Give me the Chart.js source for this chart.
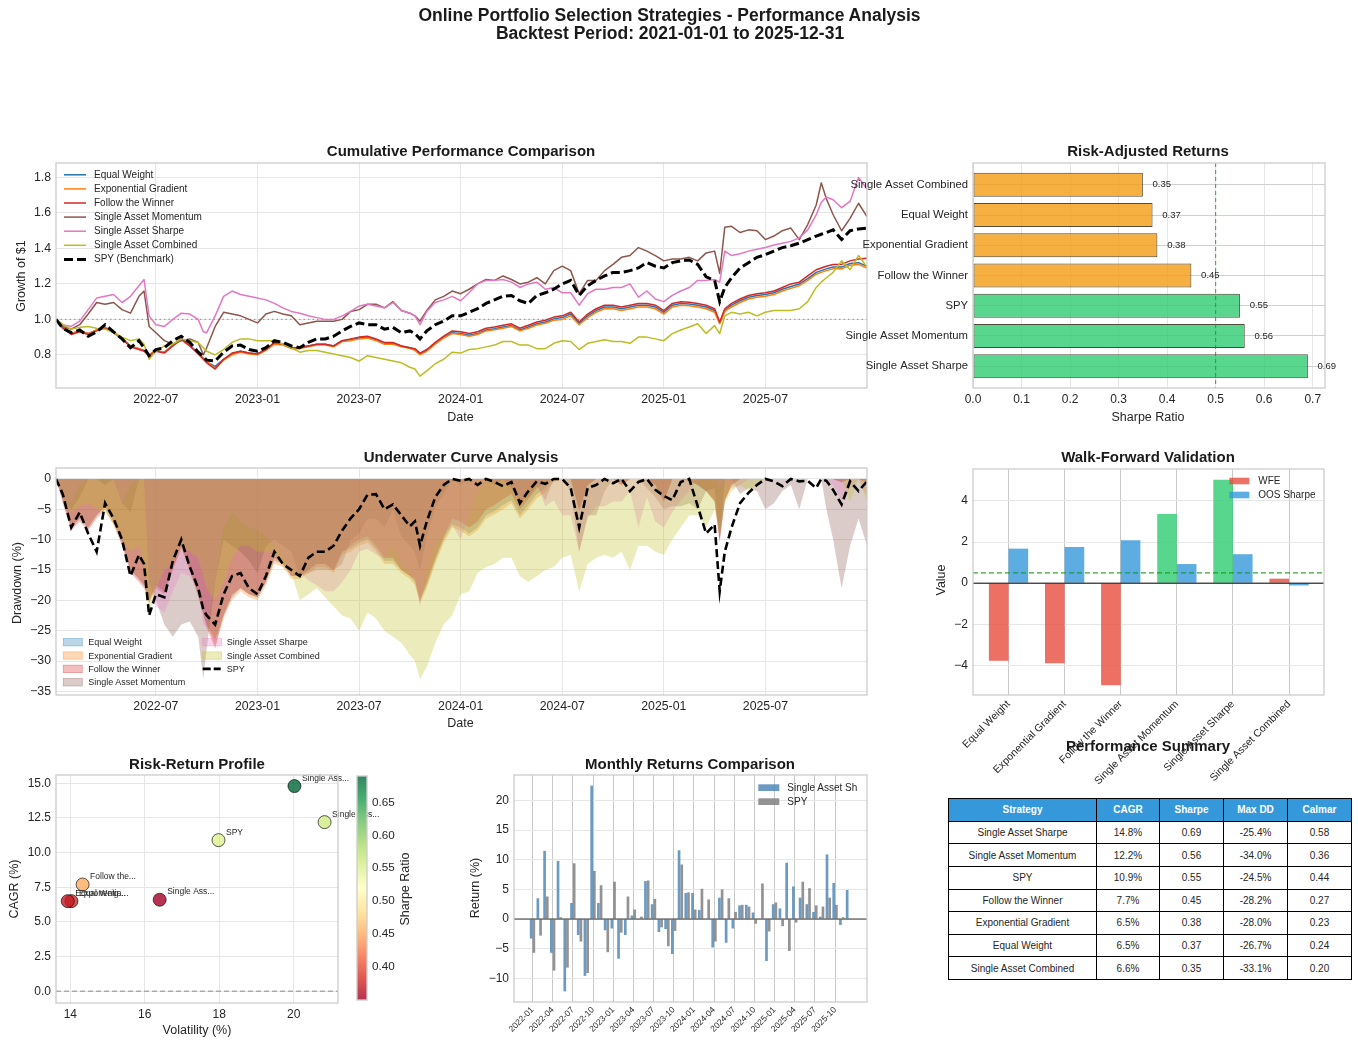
<!DOCTYPE html>
<html>
<head>
<meta charset="utf-8">
<title>Online Portfolio Selection Strategies - Performance Analysis</title>
<script src="https://cdn.jsdelivr.net/npm/chart.js@4.4.1/dist/chart.umd.min.js"></script>
<style>
  html, body { margin: 0; padding: 0; background: #fff; }
  body { position: relative; width: 1358px; height: 1046px; overflow: hidden;
         font-family: 'Liberation Sans', Arial, Helvetica, sans-serif; color: #262626; }
  canvas { position: absolute; }
  .txt { position: absolute; white-space: nowrap; line-height: 1; }
  #summary { position: absolute; left: 948px; top: 798px; width: 403px; height: 182px;
             border-collapse: collapse; font-size: 10px; table-layout: fixed; }
  #summary td, #summary th { border: 1.3px solid #000; text-align: center; padding: 0; }
  #summary th { background: #3498db; color: #fff; font-weight: bold; }
</style>
</head>
<body>
<script>
// ---------- data ----------

// sample positions of the daily curves, months since 2022-01-01
const monthGrid = [
  0.1, 0.5, 1, 1.5, 2, 2.5, 3, 3.5, 4, 4.5,
  5, 5.3, 5.6, 6, 6.5, 7, 7.5, 8, 8.5, 8.8,
  9, 9.5, 10, 10.5, 11, 11.5, 12, 12.5, 13, 13.5,
  14, 14.5, 15, 15.5, 16, 16.5, 17, 17.5, 18, 18.5,
  19, 19.5, 20, 20.5, 21, 21.3, 21.6, 22, 22.5, 23,
  23.5, 24, 24.5, 25, 25.5, 26, 26.5, 27, 27.5, 28,
  28.5, 29, 29.5, 30, 30.5, 31, 31.5, 32, 32.5, 33,
  33.5, 34, 34.5, 35, 35.5, 36, 36.5, 37, 37.5, 38,
  38.5, 39, 39.3, 39.6, 40, 40.5, 41, 41.5, 42, 42.5,
  43, 43.5, 44, 44.5, 45, 45.3, 45.6, 46, 46.5, 47,
  47.5, 48
];
const dateTickPos = [6, 12, 18, 24, 30, 36, 42];
const dateTickLabels = ['2022-07', '2023-01', '2023-07', '2024-01', '2024-07', '2025-01', '2025-07'];

// growth of $1
const cumEqualWeight = [
  1.00, 0.955, 0.92, 0.935, 0.92, 0.94, 0.955, 0.93, 0.895, 0.85,
  0.835, 0.825, 0.80, 0.825, 0.815, 0.855, 0.89, 0.855, 0.81, 0.78,
  0.76, 0.735, 0.775, 0.805, 0.82, 0.81, 0.805, 0.83, 0.865, 0.86,
  0.84, 0.84, 0.85, 0.86, 0.86, 0.85, 0.88, 0.885, 0.895, 0.90,
  0.885, 0.865, 0.865, 0.85, 0.84, 0.83, 0.805, 0.825, 0.865, 0.90,
  0.925, 0.92, 0.91, 0.92, 0.94, 0.947, 0.957, 0.965, 0.94, 0.957,
  0.975, 0.985, 1.003, 1.01, 1.03, 0.978, 1.02, 1.05, 1.07, 1.07,
  1.06, 1.07, 1.08, 1.08, 1.07, 1.04, 1.08, 1.09, 1.087, 1.08,
  1.07, 1.05, 0.98, 1.05, 1.08, 1.105, 1.125, 1.135, 1.14, 1.15,
  1.17, 1.185, 1.20, 1.23, 1.265, 1.275, 1.285, 1.295, 1.295, 1.315,
  1.32, 1.30
];
const cumExpGradient = [
  1.00, 0.955, 0.92, 0.935, 0.92, 0.94, 0.955, 0.93, 0.895, 0.85,
  0.835, 0.825, 0.80, 0.825, 0.815, 0.85, 0.885, 0.85, 0.81, 0.78,
  0.76, 0.725, 0.77, 0.80, 0.815, 0.805, 0.80, 0.825, 0.86, 0.855,
  0.835, 0.835, 0.845, 0.855, 0.855, 0.845, 0.875, 0.88, 0.89, 0.895,
  0.88, 0.86, 0.86, 0.845, 0.835, 0.825, 0.80, 0.82, 0.86, 0.895,
  0.92, 0.915, 0.905, 0.915, 0.935, 0.942, 0.95, 0.96, 0.935, 0.95,
  0.968, 0.978, 0.995, 1.00, 1.02, 0.97, 1.01, 1.04, 1.06, 1.06,
  1.05, 1.06, 1.07, 1.07, 1.06, 1.03, 1.07, 1.08, 1.077, 1.07,
  1.06, 1.04, 0.975, 1.045, 1.07, 1.095, 1.115, 1.125, 1.13, 1.14,
  1.16, 1.175, 1.19, 1.22, 1.255, 1.265, 1.275, 1.285, 1.285, 1.305,
  1.31, 1.29
];
const cumFollowWinner = [
  1.00, 0.95, 0.915, 0.93, 0.915, 0.935, 0.95, 0.925, 0.89, 0.845,
  0.83, 0.82, 0.795, 0.82, 0.81, 0.85, 0.89, 0.85, 0.805, 0.775,
  0.755, 0.72, 0.775, 0.81, 0.82, 0.81, 0.805, 0.83, 0.87, 0.86,
  0.84, 0.84, 0.85, 0.86, 0.86, 0.85, 0.88, 0.89, 0.90, 0.905,
  0.89, 0.87, 0.87, 0.85, 0.84, 0.835, 0.81, 0.83, 0.87, 0.905,
  0.935, 0.93, 0.92, 0.93, 0.95, 0.957, 0.967, 0.975, 0.95, 0.967,
  0.985, 0.995, 1.013, 1.02, 1.04, 0.985, 1.03, 1.06, 1.08, 1.08,
  1.07, 1.08, 1.09, 1.09, 1.08, 1.05, 1.09, 1.10, 1.097, 1.09,
  1.08, 1.06, 0.985, 1.06, 1.09, 1.115, 1.135, 1.145, 1.15, 1.16,
  1.18, 1.20, 1.21, 1.245, 1.28, 1.29, 1.30, 1.31, 1.31, 1.33,
  1.34, 1.345
];
const cumMomentum = [
  1.00, 0.96, 0.945, 0.97, 1.03, 1.095, 1.085, 1.095, 1.055, 1.035,
  1.13, 1.16, 0.96, 0.925, 0.88, 0.86, 0.88, 0.89, 0.87, 0.80,
  0.84, 0.96, 1.04, 1.03, 1.02, 1.00, 0.98, 1.03, 1.045, 1.03,
  1.02, 0.97, 0.98, 0.99, 0.99, 0.99, 1.00, 1.045, 1.055, 1.085,
  1.085, 1.065, 1.10, 1.05, 1.035, 1.02, 0.99, 1.05, 1.11, 1.13,
  1.16, 1.145, 1.17, 1.20, 1.225, 1.22, 1.245, 1.225, 1.20, 1.21,
  1.235, 1.20, 1.275, 1.30, 1.275, 1.145, 1.22, 1.22, 1.275, 1.31,
  1.35, 1.36, 1.405, 1.385, 1.36, 1.33, 1.34, 1.34, 1.35, 1.33,
  1.375, 1.385, 1.26, 1.52, 1.525, 1.49, 1.505, 1.50, 1.45, 1.47,
  1.50, 1.515, 1.45, 1.535, 1.645, 1.77, 1.68, 1.59, 1.50, 1.57,
  1.655, 1.58
];
const cumSharpe = [
  1.00, 0.97, 0.96, 0.99, 1.055, 1.12, 1.13, 1.14, 1.095, 1.13,
  1.19, 1.225, 1.02, 0.97, 0.96, 1.00, 1.035, 1.03, 1.00, 0.93,
  0.925, 1.02, 1.13, 1.16, 1.14, 1.13, 1.12, 1.11, 1.09, 1.065,
  1.045, 1.035, 1.02, 1.01, 1.00, 1.00, 1.02, 1.045, 1.075, 1.085,
  1.075, 1.065, 1.095, 1.05, 1.035, 1.02, 0.97, 1.045, 1.095, 1.11,
  1.13, 1.105, 1.15, 1.20, 1.22, 1.22, 1.225, 1.21, 1.18, 1.20,
  1.21, 1.17, 1.18, 1.15, 1.15, 1.08, 1.145, 1.17, 1.17, 1.18,
  1.18, 1.20, 1.125, 1.16, 1.115, 1.10, 1.135, 1.16, 1.18, 1.22,
  1.22, 1.225, 1.21, 1.385, 1.36, 1.37, 1.385, 1.395, 1.405, 1.42,
  1.43, 1.44, 1.46, 1.505, 1.59, 1.66, 1.69, 1.675, 1.63, 1.665,
  1.80, 1.735
];
const cumCombined = [
  1.00, 0.97, 0.945, 0.955, 0.96, 0.95, 0.945, 0.925, 0.90, 0.88,
  0.89, 0.86, 0.775, 0.82, 0.85, 0.86, 0.89, 0.88, 0.87, 0.84,
  0.82, 0.80, 0.83, 0.87, 0.89, 0.89, 0.88, 0.88, 0.88, 0.86,
  0.84, 0.815, 0.825, 0.825, 0.815, 0.805, 0.795, 0.785, 0.765, 0.795,
  0.785, 0.775, 0.765, 0.755, 0.73, 0.72, 0.68, 0.71, 0.75, 0.775,
  0.815, 0.81, 0.83, 0.835, 0.845, 0.855, 0.875, 0.875, 0.855, 0.855,
  0.835, 0.835, 0.865, 0.88, 0.875, 0.83, 0.865, 0.875, 0.885, 0.875,
  0.875, 0.865, 0.90, 0.90, 0.89, 0.88, 0.92, 0.94, 0.957, 0.975,
  0.92, 0.965, 0.92, 1.02, 1.04, 1.03, 1.04, 1.02, 1.04, 1.05,
  1.05, 1.05, 1.06, 1.10, 1.18, 1.21, 1.235, 1.265, 1.33, 1.28,
  1.36, 1.295
];
const cumSpy = [
  1.00, 0.95, 0.925, 0.94, 0.905, 0.93, 0.97, 0.93, 0.89, 0.84,
  0.88, 0.84, 0.795, 0.83, 0.84, 0.88, 0.905, 0.87, 0.815, 0.79,
  0.77, 0.765, 0.815, 0.85, 0.855, 0.83, 0.82, 0.84, 0.88, 0.87,
  0.85, 0.84, 0.87, 0.89, 0.89, 0.905, 0.935, 0.96, 0.98, 0.97,
  0.97, 0.945, 0.955, 0.925, 0.935, 0.92, 0.89, 0.935, 0.97, 0.99,
  1.02, 1.02, 1.04, 1.06, 1.09, 1.11, 1.13, 1.135, 1.105, 1.09,
  1.135, 1.15, 1.17, 1.20, 1.22, 1.135, 1.19, 1.22, 1.245, 1.265,
  1.265, 1.275, 1.29, 1.32, 1.30, 1.29, 1.32, 1.33, 1.335, 1.31,
  1.24, 1.22, 1.10, 1.18, 1.235, 1.29, 1.32, 1.35, 1.365, 1.385,
  1.405, 1.415, 1.43, 1.45, 1.47, 1.48, 1.49, 1.505, 1.45, 1.50,
  1.51, 1.515
];

// drawdown, %
const ddEqualWeight = [
  0, -3.5, -8, -6.5, -8, -6, -4.5, -7, -10.5, -15,
  -16.5, -17.5, -20, -17.5, -18.5, -14.5, -11, -14.5, -19, -22,
  -24, -26.5, -22.5, -19.5, -18, -19, -19.5, -17, -13.5, -14,
  -16, -16, -15, -14, -14, -15, -12, -11.5, -10.5, -10,
  -11.5, -13.5, -13.5, -15, -16, -17, -20, -17.5, -13.5, -10,
  -7.5, -8, -9, -8, -6, -5.3, -4.3, -3.5, -6, -4.3,
  -2.5, -1.5, 0, 0, 0, -5, -1, 0, 0, 0,
  -1, 0, 0, 0, -1, -3.7, 0, 0, -0.3, -1,
  -2, -3.7, -10, -3.5, -1, 0, 0, 0, 0, 0,
  0, 0, 0, 0, 0, 0, 0, 0, -0.5, 0,
  0, -0.6
];
const ddExpGradient = [
  0, -3.5, -8, -6.5, -8, -6, -4.5, -7, -10.5, -15,
  -16.5, -17.5, -20, -17.5, -18.5, -15, -11.5, -15, -19, -22,
  -24, -27.5, -23, -20, -18.5, -19.5, -20, -17.5, -14, -14.5,
  -16.5, -16.5, -15.5, -14.5, -14.5, -15.5, -12.5, -12, -11, -10.5,
  -12, -14, -14, -15.5, -16.5, -17.5, -20.5, -18, -14, -10.5,
  -8, -8.5, -9.5, -8.5, -6.5, -5.8, -5, -4, -6.5, -5,
  -3.2, -2.2, -0.5, 0, 0, -5, -1, 0, 0, 0,
  -1, 0, 0, 0, -1, -3.7, 0, 0, -0.3, -1,
  -2, -3.8, -10, -3.5, -1.2, 0, 0, 0, 0, 0,
  0, 0, 0, 0, 0, 0, 0, 0, -0.6, 0,
  0, -0.8
];
const ddFollowWinner = [
  0, -4, -8.5, -7, -8.5, -6.5, -5, -7.5, -11, -15.5,
  -17, -18, -20.5, -18, -19, -15, -11, -15, -19.5, -22.5,
  -24.5, -28, -22.5, -19, -18, -19, -19.5, -17, -13, -14,
  -16, -16, -15, -14, -14, -15, -12, -11, -10, -9.5,
  -11, -13, -13, -15, -16, -16.5, -20, -17, -13, -9.5,
  -6.5, -7, -8, -7, -5, -4.3, -3.3, -2.5, -5, -3.3,
  -1.5, -0.5, 0, 0, 0, -5.3, -1, 0, 0, 0,
  -1, 0, 0, 0, -1, -3.7, 0, 0, -0.3, -1,
  -2, -3.6, -10.5, -3.6, -0.9, 0, 0, 0, 0, 0,
  0, 0, 0, 0, 0, 0, 0, 0, -0.5, 0,
  0, -0.4
];
const ddMomentum = [
  0, -3, -5, -3, 0, 0, -1, 0, -4, -5.5,
  0, 0, -17, -20, -24, -26, -24, -23.5, -26, -33,
  -28, -17, -10, -11, -12, -13.5, -15.5, -11, -10, -11,
  -12, -16, -15.5, -15, -15, -15, -14, -10, -9, -6.5,
  -6.5, -8, -5, -9.5, -11, -12, -15, -9.5, -4.5, -2.5,
  0, -1, 0, 0, 0, -1, 0, -1.5, -3.5, -3,
  -1, -3.5, 0, 0, -2, -12, -6, -6, -2, 0,
  0, 0, 0, -1.5, -3, -5, -4.5, -4.5, -4, -5,
  -2, -1.5, -10, 0, 0, -2.5, -1.5, -2, -5, -4,
  -2, -1, -5, 0, 0, 0, -5, -10, -18, -11,
  -6.5, -11
];
const ddSharpe = [
  0, -3, -4, -1, 0, 0, 0, 0, -4, -1,
  0, 0, -16.5, -21, -22, -18.5, -15.5, -16, -18.5, -24,
  -24.5, -17, -8, -5.5, -7, -8, -8.5, -9.5, -11, -13,
  -14.7, -15.5, -16.7, -17.5, -18.5, -18.5, -17, -15, -12, -11.5,
  -12.5, -13, -10.5, -14, -15.5, -16.7, -21, -14.5, -10.5, -9,
  -7.5, -10, -6, -2, -0.5, -0.5, 0, -1, -3.5, -2,
  -1, -4.5, -3.5, -6, -6, -12, -6.5, -4.5, -4.5, -3.7,
  -3.7, -2, -8, -3, -7, -8, -5.5, -3.5, -2, 0,
  0, 0, -1.5, 0, -1.5, -1, 0, 0, 0, 0,
  0, 0, 0, 0, 0, 0, 0, -1, -3.5, -1.5,
  0, -3
];
const ddCombined = [
  0, -3, -5.5, -4.5, -4, -5, -5.5, -7.5, -10, -12,
  -11, -14, -22.5, -18, -15, -14, -11, -12, -13, -16,
  -18, -20, -17, -13, -11, -11, -12, -12, -12, -14.5,
  -15.5, -20, -19, -18, -19.5, -21, -22.5, -23, -25, -22,
  -23, -25, -26, -27, -29, -30, -33, -31, -27, -24,
  -22.5, -19, -18.5, -15.5, -14.5, -14, -13, -13, -16, -17,
  -16, -15, -14.5, -13, -12.5, -18.5, -14, -13, -12.5, -13,
  -12, -15, -11, -11, -12, -12.5, -10, -8, -6, -6,
  -8, -5, -9, -4, -2, -1, -2, -1, 0, 0,
  0, 0, 0, 0, 0, 0, 0, 0, 0, -3.8,
  0, -3.7
];
const ddSpy = [
  0, -2.5, -8, -5.5, -9, -12, -4, -6.5, -10, -16,
  -12.5, -14, -22.5, -19, -19.5, -13.5, -10, -14.5, -18, -21.5,
  -22.5, -24, -19, -16, -15.5, -18, -19, -16, -12, -14,
  -15, -16, -13, -12, -12, -11, -8.5, -6.5, -5, -2.6,
  -2.5, -5, -4.2, -6, -7.8, -7, -11, -7, -3, -1,
  0, -0.3, 0, -1, 0, -0.5, -1.2, -0.5, -4, -2,
  -0.4, -0.8, 0, 0, -1.5, -8, -1.5, -1, 0, -0.7,
  0, -2, -0.5, 0, -1.8, -2.8, -3.5, -0.5, 0, -4.5,
  -9, -7.5, -18.5, -12, -8, -4, -2.3, -1, 0, -0.4,
  -1.2, 0, -0.4, -0.3, -1.5, 0, -0.3, -1.8, -4.2, -0.4,
  -2, -0.4
];

// summary table, sorted by Sharpe
const summaryNames = ['Single Asset Sharpe', 'Single Asset Momentum', 'SPY', 'Follow the Winner',
                      'Exponential Gradient', 'Equal Weight', 'Single Asset Combined'];
const summaryCagr = [14.8, 12.2, 10.9, 7.7, 6.5, 6.5, 6.6];
const summarySharpe = [0.69, 0.56, 0.55, 0.45, 0.38, 0.37, 0.35];
const summaryMaxDD = [-25.4, -34.0, -24.5, -28.2, -28.0, -26.7, -33.1];
const summaryCalmar = [0.58, 0.36, 0.44, 0.27, 0.23, 0.24, 0.20];
const summaryVol = [20.02, 20.83, 17.98, 14.33, 14.03, 13.93, 16.40];

// walk-forward
const wfNames = ['Equal Weight', 'Exponential Gradient', 'Follow the Winner',
                 'Single Asset Momentum', 'Single Asset Sharpe', 'Single Asset Combined'];
const wfWfe = [-3.77, -3.9, -4.97, 3.37, 5.03, 0.22];
const wfOos = [1.68, 1.76, 2.09, 0.93, 1.41, -0.11];

// monthly returns, %
const monthLabels = [
  '2022-01', '2022-02', '2022-03', '2022-04', '2022-05', '2022-06', '2022-07', '2022-08', '2022-09', '2022-10', '2022-11', '2022-12',
  '2023-01', '2023-02', '2023-03', '2023-04', '2023-05', '2023-06', '2023-07', '2023-08', '2023-09', '2023-10', '2023-11', '2023-12',
  '2024-01', '2024-02', '2024-03', '2024-04', '2024-05', '2024-06', '2024-07', '2024-08', '2024-09', '2024-10', '2024-11', '2024-12',
  '2025-01', '2025-02', '2025-03', '2025-04', '2025-05', '2025-06', '2025-07', '2025-08', '2025-09', '2025-10', '2025-11', '2025-12'
];
const monthTickPos = [0, 3, 6, 9, 12, 15, 18, 21, 24, 27, 30, 33, 36, 39, 42, 45];
const monthlySharpe = [
  -3.3, 3.5, 11.5, -5.7, 9.8, -12.2, 2.7, -2.7, -9.6, 22.5, 2.7, -1.9,
  -1.6, -6.7, -2.7, 0.6, -0.1, 6.4, 2.5, -2.2, -1.7, -5.9, 11.6, 4.4,
  4.4, 1.5, 0.1, -4.8, 3.6, -4.0, -1.6, 2.3, 2.4, 1.1, 0.0, -7.1,
  2.5, 1.8, 9.5, 5.5, 3.6, 2.5, 1.2, 0.4, 10.9, 6.1, -1.0, 4.9
];
const monthlySpy = [
  -5.7, -2.8, 3.8, -8.7, 0.3, -8.2, 9.4, -3.8, -9.1, 8.1, 5.7, -5.6,
  6.3, -2.3, 3.8, 1.6, 0.4, 6.5, 3.4, -1.4, -4.6, -2.0, 9.2, 4.5,
  1.6, 5.1, 3.3, -3.8, 5.0, 3.5, 1.2, 2.4, 2.1, -0.8, 6.0, -2.1,
  2.8, -1.2, -5.4, -0.6, 6.3, 5.2, 2.3, 2.1, 3.6, 2.4, 0.3, 0.1
];

// ---------- styling ----------
const FONT = "'Liberation Sans', Arial, Helvetica, sans-serif";
const C = { ew: '#1f77b4', eg: '#ff7f0e', ftw: '#d62728', mom: '#8c564b', shp: '#e377c2', comb: '#bcbd22' };
const ORANGE = 'rgba(243,156,18,0.8)', GREEN = 'rgba(46,204,113,0.8)';
const RED = 'rgba(231,76,60,0.8)', BLUE = 'rgba(52,152,219,0.8)';
const RDYLGN = ['#a50026', '#d73027', '#f46d43', '#fdae61', '#fee08b', '#ffffbf',
                '#d9ef8b', '#a6d96a', '#66bd63', '#1a9850', '#006837'];

function rgba(hex, a) {
  const n = parseInt(hex.slice(1), 16);
  return `rgba(${n >> 16},${(n >> 8) & 255},${n & 255},${a})`;
}
function cmap(t, a) {
  t = Math.max(0, Math.min(1, t));
  const p = t * 10, i = Math.min(9, Math.floor(p)), f = p - i;
  const c0 = parseInt(RDYLGN[i].slice(1), 16), c1 = parseInt(RDYLGN[i + 1].slice(1), 16);
  const ch = s => Math.round(((c0 >> s) & 255) * (1 - f) + ((c1 >> s) & 255) * f);
  return `rgba(${ch(16)},${ch(8)},${ch(0)},${a})`;
}
const fmt = (v, d) => (v < 0 ? '\u2212' : '') + Math.abs(v).toFixed(d);

Chart.defaults.font.family = FONT;
Chart.defaults.color = '#262626';
Chart.defaults.plugins.legend.display = false;
Chart.defaults.plugins.tooltip.enabled = false;

// plot frame + reference lines
Chart.register({
  id: 'frame',
  afterDraw(chart) {
    const { ctx, chartArea: a } = chart;
    ctx.save();
    ctx.strokeStyle = '#cccccc';
    ctx.lineWidth = 1.3;
    ctx.strokeRect(a.left, a.top, a.right - a.left, a.bottom - a.top);
    ctx.restore();
  }
});
function drawRefLines(chart, lines, below) {
  const { ctx, chartArea: a } = chart;
  lines.filter(l => !!l.below === below).forEach(l => {
    ctx.save();
    ctx.beginPath();
    ctx.rect(a.left, a.top, a.right - a.left, a.bottom - a.top);
    ctx.clip();
    ctx.strokeStyle = l.color;
    ctx.lineWidth = l.width || 1;
    ctx.setLineDash(l.dash || []);
    ctx.beginPath();
    if (l.axis === 'y') {
      const y = chart.scales.y.getPixelForValue(l.value);
      ctx.moveTo(a.left, y); ctx.lineTo(a.right, y);
    } else {
      const x = chart.scales.x.getPixelForValue(l.value);
      ctx.moveTo(x, a.top); ctx.lineTo(x, a.bottom);
    }
    ctx.stroke();
    ctx.restore();
  });
}
Chart.register({
  id: 'refLines',
  defaults: { lines: [] },
  beforeDatasetsDraw(chart, args, opts) { drawRefLines(chart, opts.lines, true); },
  afterDatasetsDraw(chart, args, opts) { drawRefLines(chart, opts.lines, false); }
});

function axis(min, max, ticks, label, o = {}) {
  const ax = {
    type: 'linear', min, max, bounds: 'data', offset: false, reverse: !!o.reverse,
    display: o.display !== false,
    afterBuildTicks: s => { s.ticks = ticks.map(v => ({ value: v })); },
    ticks: {
      callback: (v, i) => label(v, i),
      autoSkip: false,
      minRotation: o.rotation || 0, maxRotation: o.rotation || 0,
      padding: o.padding != null ? o.padding : 5,
      color: '#262626',
      font: { size: o.size || 12 }
    },
    grid: o.noGrid ? { display: false, drawTicks: false }
                   : { color: o.gridColor || '#e6e6e6', lineWidth: 1, drawTicks: false, offset: false },
    border: { display: false }
  };
  if (o.position) ax.position = o.position;
  return ax;
}

// canvas whose plot area lands exactly on area = [left, top, right, bottom]
function makeChart(area, pad, config) {
  const [l, t, r, b] = area, [pl, pt, pr, pb] = pad;
  const w = r - l + pl + pr, h = b - t + pt + pb;
  const cv = document.createElement('canvas');
  cv.width = w; cv.height = h;
  cv.style.left = (l - pl) + 'px'; cv.style.top = (t - pt) + 'px';
  cv.style.width = w + 'px'; cv.style.height = h + 'px';
  document.body.appendChild(cv);
  const o = config.options;
  o.responsive = false; o.animation = false; o.devicePixelRatio = 1;
  const yRight = o.scales.y.position === 'right';
  o.layout = { padding: { left: yRight ? pl : 0, right: yRight ? 0 : pr, top: pt, bottom: 0 } };
  o.scales.x.afterFit = s => { s.height = pb; };
  o.scales.y.afterFit = s => { s.width = yRight ? pr : pl; };
  return new Chart(cv, config);
}

const xy = arr => arr.map((v, i) => ({ x: monthGrid[i], y: v }));
const dateAxis = () => axis(0.1, 48, dateTickPos, (v, i) => dateTickLabels[i], { size: 12.3, padding: 4 });

// ---------- 1. cumulative performance ----------
const cumSets = [
  ['Equal Weight', cumEqualWeight, C.ew],
  ['Exponential Gradient', cumExpGradient, C.eg],
  ['Follow the Winner', cumFollowWinner, C.ftw],
  ['Single Asset Momentum', cumMomentum, C.mom],
  ['Single Asset Sharpe', cumSharpe, C.shp],
  ['Single Asset Combined', cumCombined, C.comb]
];
makeChart([56, 163, 867, 388], [50, 15, 20, 30], {
  type: 'line',
  data: {
    datasets: cumSets.map((s, k) => ({
      label: s[0], data: xy(s[1]), borderColor: s[2], borderWidth: 1.5,
      pointRadius: 0, tension: 0, borderJoinStyle: 'round', order: 10 - k
    })).concat([{
      label: 'SPY (Benchmark)', data: xy(cumSpy), borderColor: '#000', borderWidth: 3,
      borderDash: [9, 4], pointRadius: 0, tension: 0, order: 0
    }])
  },
  options: {
    scales: {
      x: dateAxis(),
      y: axis(0.613, 1.882, [0.8, 1.0, 1.2, 1.4, 1.6, 1.8], v => v.toFixed(1), { size: 12.3 })
    },
    plugins: { refLines: { lines: [{ axis: 'y', value: 1, color: 'rgba(128,128,128,0.7)', dash: [1.5, 3], width: 1.2, below: true }] } }
  }
});

// ---------- 2. risk-adjusted returns ----------
const raNames = summaryNames.slice().reverse();
const raVals = summarySharpe.slice().reverse();
makeChart([973, 163, 1325, 388], [135, 15, 25, 30], {
  type: 'bar',
  data: {
    datasets: [{
      data: raVals.map((v, i) => ({ x: v, y: i })),
      backgroundColor: raVals.map(v => v >= 0.5 ? GREEN : ORANGE),
      borderColor: 'rgba(40,30,10,0.8)', borderWidth: 1, borderSkipped: false,
      barPercentage: 0.8, categoryPercentage: 1
    }]
  },
  options: {
    indexAxis: 'y',
    scales: {
      x: axis(0, 0.7253, [0, 0.1, 0.2, 0.3, 0.4, 0.5, 0.6, 0.7], v => v.toFixed(1), { padding: 4 }),
      y: axis(-0.72, 6.72, [0, 1, 2, 3, 4, 5, 6], (v, i) => raNames[i], { reverse: true, gridColor: '#d0d0d0', size: 11.3 })
    },
    plugins: { refLines: { lines: [{ axis: 'x', value: 0.5, color: 'rgba(20,150,20,0.85)', dash: [4, 3], width: 1 }] } }
  },
  plugins: [{
    id: 'barValues',
    afterDatasetsDraw(chart) {
      const { ctx } = chart, xs = chart.scales.x, ys = chart.scales.y;
      ctx.save();
      ctx.font = '9.5px ' + FONT; ctx.fillStyle = '#262626';
      ctx.textAlign = 'left'; ctx.textBaseline = 'middle';
      raVals.forEach((v, i) => ctx.fillText(v.toFixed(2), xs.getPixelForValue(v + 0.02), ys.getPixelForValue(i)));
      ctx.restore();
    }
  }]
});

// ---------- 3. underwater curve ----------
const ddSets = [
  [ddEqualWeight, C.ew], [ddExpGradient, C.eg], [ddFollowWinner, C.ftw],
  [ddMomentum, C.mom], [ddSharpe, C.shp], [ddCombined, C.comb]
];
makeChart([56, 468, 867, 695], [50, 15, 20, 30], {
  type: 'line',
  data: {
    datasets: ddSets.map((s, k) => ({
      data: xy(s[0]), fill: 'origin', backgroundColor: rgba(s[1], 0.3),
      borderWidth: 0, pointRadius: 0, tension: 0, order: 10 - k
    })).concat([{
      data: xy(ddSpy), borderColor: '#000', borderWidth: 2.6, borderDash: [8, 4],
      pointRadius: 0, tension: 0, fill: false, order: 0
    }])
  },
  options: {
    scales: {
      x: dateAxis(),
      y: axis(-35.6, 1.8, [-35, -30, -25, -20, -15, -10, -5, 0], v => fmt(v, 0), { size: 12.3 })
    }
  }
});

// ---------- 4. walk-forward validation ----------
makeChart([973, 469, 1324, 695], [40, 15, 25, 100], {
  type: 'bar',
  data: {
    datasets: [
      { data: wfWfe.map((v, i) => ({ x: i, y: v })), backgroundColor: wfWfe.map(v => v > 0.5 ? GREEN : RED),
        categoryPercentage: 0.7, barPercentage: 1 },
      { data: wfOos.map((v, i) => ({ x: i, y: v })), backgroundColor: BLUE,
        categoryPercentage: 0.7, barPercentage: 1 }
    ]
  },
  options: {
    scales: {
      x: axis(-0.633, 5.623, [0, 1, 2, 3, 4, 5], (v, i) => wfNames[i], { rotation: 45, size: 10.5, gridColor: '#c8c8c8', padding: 3 }),
      y: axis(-5.44, 5.555, [-4, -2, 0, 2, 4], v => fmt(v, 0))
    },
    plugins: { refLines: { lines: [
      { axis: 'y', value: 0, color: '#000', width: 1 },
      { axis: 'y', value: 0.5, color: 'rgba(20,150,20,0.85)', dash: [5, 3], width: 1.2 }
    ] } }
  }
});

// ---------- 5. risk-return scatter ----------
const sMin = Math.min(...summarySharpe), sMax = Math.max(...summarySharpe);
makeChart([56, 775, 338, 1003], [50, 15, 60, 20], {
  type: 'scatter',
  data: {
    datasets: [{
      data: summaryVol.map((v, i) => ({ x: v, y: summaryCagr[i] })),
      backgroundColor: summarySharpe.map(s => cmap((s - sMin) / (sMax - sMin), 0.8)),
      borderColor: 'rgba(0,0,0,0.8)', borderWidth: 0.8, pointRadius: 6.5
    }]
  },
  options: {
    scales: {
      x: axis(13.615, 21.19, [14, 16, 18, 20], v => String(v), { padding: 4 }),
      y: axis(-0.85, 15.6, [0, 2.5, 5, 7.5, 10, 12.5, 15], v => v.toFixed(1))
    },
    plugins: { refLines: { lines: [{ axis: 'y', value: 0, color: 'rgba(128,128,128,0.6)', dash: [5, 3], width: 1.4, below: true }] } }
  },
  plugins: [{
    id: 'pointNames',
    afterDatasetsDraw(chart) {
      const { ctx } = chart, xs = chart.scales.x, ys = chart.scales.y;
      ctx.save();
      ctx.font = '8.5px ' + FONT; ctx.fillStyle = '#262626';
      ctx.textAlign = 'left'; ctx.textBaseline = 'alphabetic';
      summaryNames.forEach((n, i) => {
        const t = n.length > 10 ? n.slice(0, 10) + '...' : n;
        ctx.fillText(t, xs.getPixelForValue(summaryVol[i]) + 7.5, ys.getPixelForValue(summaryCagr[i]) - 5.5);
      });
      ctx.restore();
    }
  }]
});

// colorbar
makeChart([357, 776, 367, 1002], [2, 15, 45, 10], {
  type: 'scatter',
  data: { datasets: [] },
  options: {
    scales: {
      x: { type: 'linear', display: false, min: 0, max: 1 },
      y: axis(sMin, sMax, [0.40, 0.45, 0.50, 0.55, 0.60, 0.65], v => v.toFixed(2), { position: 'right', noGrid: true, size: 11.7, padding: 5 })
    }
  },
  plugins: [{
    id: 'colorbarFill',
    beforeDatasetsDraw(chart) {
      const { ctx, chartArea: a, scales: { y } } = chart;
      const g = ctx.createLinearGradient(0, y.getPixelForValue(sMin), 0, y.getPixelForValue(sMax));
      RDYLGN.forEach((c, i) => g.addColorStop(i / (RDYLGN.length - 1), c));
      ctx.save();
      ctx.fillStyle = '#fff';
      ctx.fillRect(a.left, a.top, a.right - a.left, a.bottom - a.top);
      ctx.globalAlpha = 0.8;
      ctx.fillStyle = g;
      ctx.fillRect(a.left, a.top, a.right - a.left, a.bottom - a.top);
      ctx.restore();
    }
  }]
});

// ---------- 6. monthly returns ----------
makeChart([514, 775, 867, 1002], [40, 15, 20, 45], {
  type: 'bar',
  data: {
    datasets: [
      { data: monthlySharpe.map((v, i) => ({ x: i, y: v })), backgroundColor: 'rgba(70,130,180,0.8)',
        categoryPercentage: 0.8, barPercentage: 1 },
      { data: monthlySpy.map((v, i) => ({ x: i, y: v })), backgroundColor: 'rgba(128,128,128,0.85)',
        categoryPercentage: 0.8, barPercentage: 1 }
    ]
  },
  options: {
    scales: {
      x: axis(-2.75, 49.75, monthTickPos, (v, i) => monthLabels[monthTickPos[i]], { rotation: 45, size: 8.5, gridColor: '#c8c8c8', padding: 3 }),
      y: axis(-14, 24.3, [-10, -5, 0, 5, 10, 15, 20], v => fmt(v, 0))
    },
    plugins: { refLines: { lines: [{ axis: 'y', value: 0, color: '#333', width: 1 }] } }
  }
});

// ---------- 7. summary table ----------
const tbl = document.createElement('table');
tbl.id = 'summary';
const colW = [148, 63, 64, 64, 64];
tbl.innerHTML = '<colgroup>' + colW.map(w => `<col style="width:${w}px">`).join('') + '</colgroup>';
const head = tbl.insertRow();
['Strategy', 'CAGR', 'Sharpe', 'Max DD', 'Calmar'].forEach(h => {
  const th = document.createElement('th'); th.textContent = h; head.appendChild(th);
});
summaryNames.forEach((n, i) => {
  const row = tbl.insertRow();
  [n, summaryCagr[i].toFixed(1) + '%', summarySharpe[i].toFixed(2),
   summaryMaxDD[i].toFixed(1) + '%', summaryCalmar[i].toFixed(2)].forEach(v => {
    row.insertCell().textContent = v;
  });
});
document.body.appendChild(tbl);

// ---------- text, legends ----------
const NS = 'http://www.w3.org/2000/svg';
const svg = document.createElementNS(NS, 'svg');
svg.setAttribute('width', 1358); svg.setAttribute('height', 1046);
svg.style.position = 'absolute'; svg.style.left = '0'; svg.style.top = '0';
document.body.appendChild(svg);
function sv(tag, attrs) {
  const e = document.createElementNS(NS, tag);
  for (const k in attrs) e.setAttribute(k, attrs[k]);
  svg.appendChild(e);
}
function text(str, x, y, size, o = {}) {
  const d = document.createElement('div');
  d.className = 'txt';
  d.textContent = str;
  d.style.left = x + 'px'; d.style.top = y + 'px';
  d.style.fontSize = size + 'px';
  if (o.bold) d.style.fontWeight = 'bold';
  d.style.color = o.color || (o.bold ? '#1a1a1a' : '#262626');
  const tx = o.left ? '0' : '-50%';
  d.style.transform = `translate(${tx},-50%)` + (o.rotate ? ' rotate(-90deg)' : '');
  document.body.appendChild(d);
}

text('Online Portfolio Selection Strategies - Performance Analysis', 669.5, 15.5, 17.5, { bold: true });
text('Backtest Period: 2021-01-01 to 2025-12-31', 670, 34, 17.5, { bold: true });

text('Cumulative Performance Comparison', 461, 149.5, 15, { bold: true });
text('Risk-Adjusted Returns', 1148, 149.5, 15, { bold: true });
text('Underwater Curve Analysis', 461, 456, 15, { bold: true });
text('Walk-Forward Validation', 1148, 456, 15, { bold: true });
text('Risk-Return Profile', 197, 762.5, 15, { bold: true });
text('Monthly Returns Comparison', 690, 762.5, 15, { bold: true });
text('Performance Summary', 1148, 744.5, 15, { bold: true });

text('Growth of $1', 21, 276, 12.5, { rotate: true });
text('Date', 460.5, 416.5, 12.5);
text('Sharpe Ratio', 1148, 416.5, 12.5);
text('Drawdown (%)', 17, 583, 12.5, { rotate: true });
text('Date', 460.5, 723, 12.5);
text('Value', 940.5, 580, 12.5, { rotate: true });
text('CAGR (%)', 14, 889, 12.5, { rotate: true });
text('Volatility (%)', 197, 1029.5, 12.5);
text('Sharpe Ratio', 404.5, 889, 12.5, { rotate: true });
text('Return (%)', 475, 888, 12.5, { rotate: true });

// cumulative legend
cumSets.concat([['SPY (Benchmark)', null, '#000']]).forEach((s, k) => {
  const y = 174.8 + k * 14.1;
  const spy = k === 6;
  sv('line', { x1: 64, x2: 86, y1: y, y2: y, stroke: s[2], 'stroke-width': spy ? 3 : 1.5,
               'stroke-dasharray': spy ? '9,4' : 'none' });
  text(s[0], 94, y, 10, { left: true });
});

// underwater legend
const uwLegend = [
  ['Equal Weight', C.ew, 63.3, 88.3, 0], ['Exponential Gradient', C.eg, 63.3, 88.3, 1],
  ['Follow the Winner', C.ftw, 63.3, 88.3, 2], ['Single Asset Momentum', C.mom, 63.3, 88.3, 3],
  ['Single Asset Sharpe', C.shp, 202.7, 226.7, 0], ['Single Asset Combined', C.comb, 202.7, 226.7, 1],
  ['SPY', null, 202.7, 226.7, 2]
];
uwLegend.forEach(e => {
  const y = 642.2 + e[4] * 13.35;
  if (e[1]) sv('rect', { x: e[2], y: y - 3.7, width: 19, height: 7.4, fill: rgba(e[1], 0.3), stroke: rgba(e[1], 0.4), 'stroke-width': 0.8 });
  else sv('line', { x1: e[2], x2: e[2] + 18, y1: y, y2: y, stroke: '#000', 'stroke-width': 2.6, 'stroke-dasharray': '8,3' });
  text(e[0], e[3], y, 9, { left: true });
});

// walk-forward legend
sv('rect', { x: 1229.3, y: 477.7, width: 20, height: 6.6, fill: RED });
text('WFE', 1258.3, 481, 10, { left: true });
sv('rect', { x: 1229.3, y: 491.7, width: 20, height: 6.6, fill: BLUE });
text('OOS Sharpe', 1258.3, 495, 10, { left: true });

// monthly legend
sv('rect', { x: 758.3, y: 784.3, width: 21, height: 6.7, fill: 'rgba(70,130,180,0.8)' });
text(summaryNames[0].slice(0, 15), 787.3, 787.7, 10, { left: true });
sv('rect', { x: 758.3, y: 798.3, width: 21, height: 6.7, fill: 'rgba(128,128,128,0.85)' });
text('SPY', 787.3, 801.7, 10, { left: true });
</script>
</body>
</html>
